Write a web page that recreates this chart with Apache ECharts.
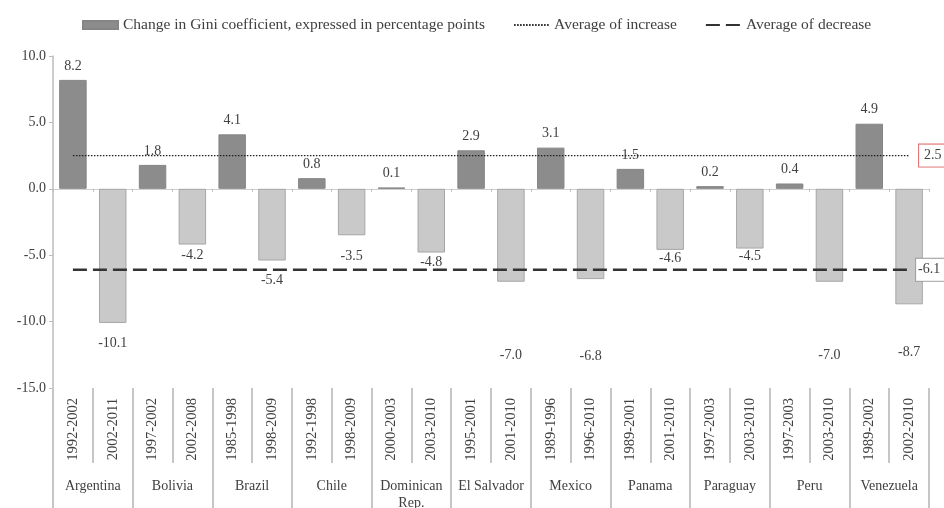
<!DOCTYPE html>
<html>
<head>
<meta charset="utf-8">
<script src="https://cdn.jsdelivr.net/npm/echarts@6/dist/echarts.min.js"></script>
<style>
  html, body { margin: 0; padding: 0; background: #fff; }
  #chart { width: 944px; height: 508px; }
</style>
</head>
<body>
<div id="chart"></div>
<script>
// Period labels (one per bar) and the country each pair of periods belongs to
const periods = ['1992-2002', '2002-2011', '1997-2002', '2002-2008', '1985-1998', '1998-2009',
  '1992-1998', '1998-2009', '2000-2003', '2003-2010', '1995-2001', '2001-2010',
  '1989-1996', '1996-2010', '1989-2001', '2001-2010', '1997-2003', '2003-2010',
  '1997-2003', '2003-2010', '1989-2002', '2002-2010'];
const countries = ['Argentina', 'Bolivia', 'Brazil', 'Chile', 'Dominican\nRep.', 'El Salvador',
  'Mexico', 'Panama', 'Paraguay', 'Peru', 'Venezuela'];

// Change in Gini coefficient (percentage points) for each period
const giniChange = [8.2, -10.1, 1.8, -4.2, 4.1, -5.4, 0.8, -3.5, 0.1, -4.8, 2.9, -7.0,
  3.1, -6.8, 1.5, -4.6, 0.2, -4.5, 0.4, -7.0, 4.9, -8.7];

// Averages of the increases and of the decreases
const avgIncrease = 2.5;
const avgDecrease = -6.1;

// Y axis ticks
const yMin = -15, yMax = 10, yStep = 5;

// Gap (px) between a falling bar and its value label; some labels sit lower to stay clear of the dashed line
const dropLabelGap = { 1: 13, 3: 4, 5: 13, 7: 14, 9: 3, 11: 67, 13: 70, 15: 1, 17: 1, 19: 67, 21: 41 };

const FONT = 'Liberation Serif';
const TEXT = '#404040';
const RISE = '#8c8c8c';
const FALL = '#c9c9c9';
const GRID_LINE = '#c6c6c6';

const barData = giniChange.map((v, i) => {
  if (v >= 0) {
    return { value: v };
  }
  return {
    value: v,
    itemStyle: { color: FALL, borderColor: '#a6a6a6' },
    label: { position: 'bottom', distance: dropLabelGap[i] ?? 3 }
  };
});

const last = periods.length - 1;

const chart = echarts.init(document.getElementById('chart'), null, { renderer: 'canvas' });
chart.setOption({
  animation: false,
  backgroundColor: '#ffffff',
  textStyle: { fontFamily: FONT },
  legend: {
    left: 82,
    top: 17,
    padding: 0,
    itemWidth: 35,
    itemHeight: 8,
    itemGap: 28,
    textStyle: { fontFamily: FONT, fontSize: 15.5, color: TEXT },
    data: [
      { name: 'Change in Gini coefficient, expressed in percentage points', icon: 'rect' },
      { name: 'Average of increase', itemStyle: { opacity: 0 } },
      { name: 'Average of decrease', itemStyle: { opacity: 0 } }
    ]
  },
  grid: { left: 53, right: 15, top: 56, bottom: 120, containLabel: false, outerBoundsMode: 'none' },
  xAxis: [
    {
      type: 'category',
      data: periods,
      position: 'bottom',
      boundaryGap: true,
      axisLine: { show: false, onZero: false },
      axisTick: { show: true, interval: 0, length: 75, lineStyle: { color: GRID_LINE, width: 2 } },
      axisLabel: {
        interval: 0, rotate: 90, margin: 10,
        fontFamily: FONT, fontSize: 14.5, color: TEXT
      },
      splitLine: { show: false }
    },
    {
      type: 'category',
      data: countries,
      position: 'bottom',
      boundaryGap: true,
      axisLine: { show: false, onZero: false },
      axisTick: { show: true, interval: 0, length: 125, lineStyle: { color: GRID_LINE, width: 2 } },
      axisLabel: {
        interval: 0, margin: 90,
        fontFamily: FONT, fontSize: 14, color: TEXT, lineHeight: 17
      },
      splitLine: { show: false }
    },
    {
      // horizontal axis line drawn through zero
      type: 'category',
      data: periods,
      position: 'bottom',
      boundaryGap: true,
      axisLine: { show: true, onZero: true, lineStyle: { color: '#cfcfcf', width: 1 } },
      axisTick: { show: true, interval: 0, length: 3, lineStyle: { color: '#bdbdbd' } },
      axisLabel: { show: false },
      splitLine: { show: false }
    }
  ],
  yAxis: {
    type: 'value',
    min: yMin,
    max: yMax,
    interval: yStep,
    axisLine: { show: true, lineStyle: { color: '#bcbcbc', width: 1.5 } },
    axisTick: { show: true, length: 4, lineStyle: { color: '#bcbcbc' } },
    axisLabel: {
      margin: 7,
      fontFamily: FONT, fontSize: 14, color: TEXT,
      formatter: v => v.toFixed(1)
    },
    splitLine: { show: false }
  },
  series: [
    {
      name: 'Change in Gini coefficient, expressed in percentage points',
      type: 'bar',
      xAxisIndex: 0,
      yAxisIndex: 0,
      barCategoryGap: '31%',
      data: barData,
      itemStyle: { color: RISE, borderColor: '#858585', borderWidth: 1 },
      label: {
        show: true,
        position: 'top',
        distance: 7,
        fontFamily: FONT,
        fontSize: 14,
        color: TEXT,
        formatter: p => p.value.toFixed(1)
      },
      z: 2
    },
    {
      name: 'Average of increase',
      type: 'line',
      xAxisIndex: 0,
      yAxisIndex: 0,
      symbol: 'none',
      data: [[0, avgIncrease], [last, avgIncrease]],
      lineStyle: { color: '#1f1f1f', width: 1.2, type: [1.5, 1.5] },
      itemStyle: { color: '#1f1f1f' },
      endLabel: {
        show: true,
        distance: 10,
        formatter: p => p.value[1].toFixed(1),
        fontFamily: FONT,
        fontSize: 14,
        color: TEXT,
        backgroundColor: '#fff',
        borderColor: '#e06a6a',
        borderWidth: 1,
        padding: [4, 5, 4, 5],
        lineHeight: 14
      },
      z: 5
    },
    {
      name: 'Average of decrease',
      type: 'line',
      xAxisIndex: 0,
      yAxisIndex: 0,
      symbol: 'none',
      data: [[0, avgDecrease], [last, avgDecrease]],
      lineStyle: { color: '#333333', width: 2.6, type: [14, 6] },
      itemStyle: { color: '#333333' },
      endLabel: {
        show: true,
        distance: 7,
        formatter: p => p.value[1].toFixed(1),
        fontFamily: FONT,
        fontSize: 14,
        color: TEXT,
        backgroundColor: '#fff',
        borderColor: '#9c9c9c',
        borderWidth: 1,
        padding: [4, 5, 4, 2],
        lineHeight: 14
      },
      z: 5
    }
  ]
});
</script>
</body>
</html>
